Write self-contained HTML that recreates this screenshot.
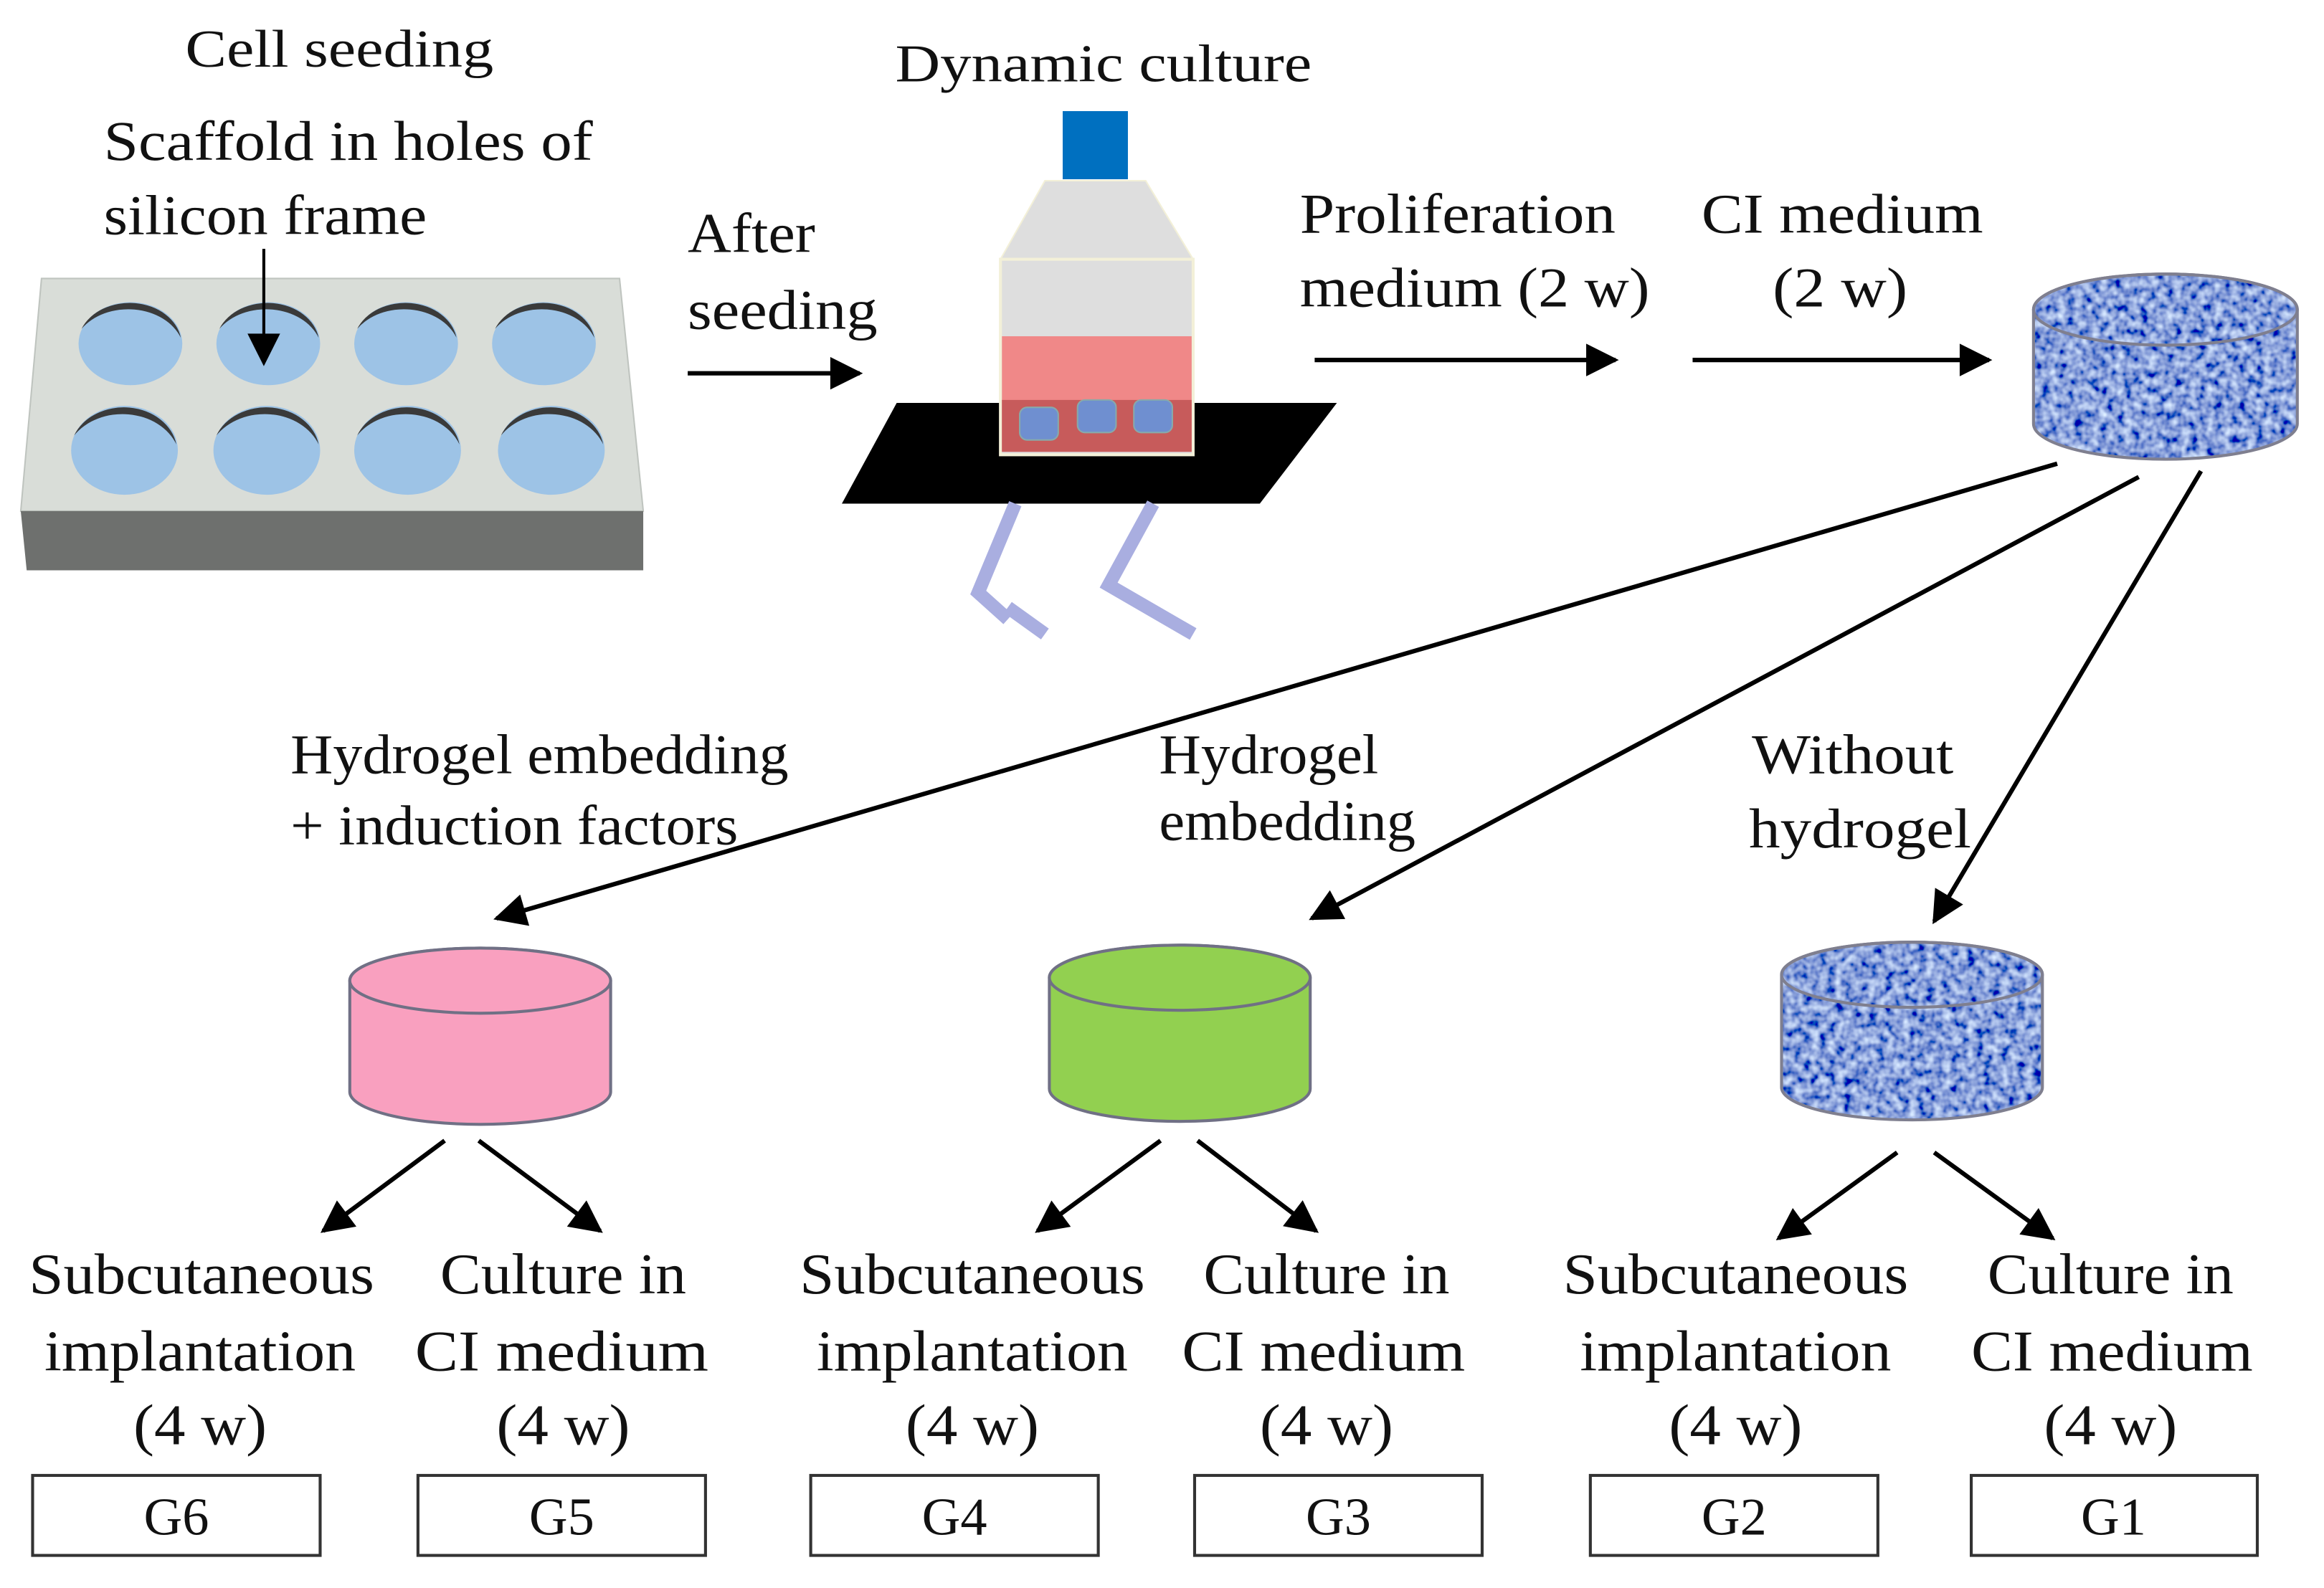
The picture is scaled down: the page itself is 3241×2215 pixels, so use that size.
<!DOCTYPE html>
<html><head><meta charset="utf-8"><style>
html,body{margin:0;padding:0;background:#fff;}
svg{display:block;}
text{font-family:"Liberation Serif",serif;fill:#111;}
</style></head><body>
<svg width="3241" height="2215" viewBox="0 0 1568 1072" preserveAspectRatio="none" xmlns="http://www.w3.org/2000/svg" font-family="Liberation Serif, serif">
<defs>
<marker id="a" viewBox="0 0 10 10" refX="9" refY="5" markerWidth="24" markerHeight="22" markerUnits="userSpaceOnUse" orient="auto"><path d="M0,0 L10,5 L0,10 z" fill="#000"/></marker>
<filter id="tex" x="0" y="0" width="100%" height="100%">
<feTurbulence type="fractalNoise" baseFrequency="0.18" numOctaves="2" seed="3" result="n"/>
<feColorMatrix in="n" type="matrix" values="1.2 0 0 0 -0.35  1.3 0 0 0 -0.3  0.9 0 0 0 0.25  0 0 0 0 1" result="c"/>
<feComposite in="c" in2="SourceGraphic" operator="in"/>
</filter>
<clipPath id="cyl1"><path d="M1372,209 A89,24 0 0 1 1550,209 L1550,286 A89,24 0 0 1 1372,286 Z"/></clipPath>
<clipPath id="cyl2"><path d="M1202,658 A88,22 0 0 1 1378,658 L1378,734 A88,22 0 0 1 1202,734 Z"/></clipPath>
</defs>

<!-- Top-left -->
<text x="125" y="45" font-size="36" textLength="208" lengthAdjust="spacingAndGlyphs">Cell seeding</text>
<text x="70" y="108" font-size="38" textLength="330" lengthAdjust="spacingAndGlyphs">Scaffold in holes of</text>
<text x="70" y="158" font-size="38" textLength="218" lengthAdjust="spacingAndGlyphs">silicon frame</text>
<polygon points="28,188 418,188 434,345 14,345" fill="#d9ddd8" stroke="#bfc4bf"/>
<polygon points="14,345 434,345 434,385 18,385" fill="#6e706e"/>
<g fill="#9dc3e6">
<ellipse cx="88" cy="232" rx="35" ry="28"/><ellipse cx="181" cy="232" rx="35" ry="28"/><ellipse cx="274" cy="232" rx="35" ry="28"/><ellipse cx="367" cy="232" rx="35" ry="28"/>
<ellipse cx="84" cy="304" rx="36" ry="30"/><ellipse cx="180" cy="304" rx="36" ry="30"/><ellipse cx="275" cy="304" rx="36" ry="30"/><ellipse cx="372" cy="304" rx="36" ry="30"/>
</g>
<g fill="#3a3a3a">
<path d="M55,222 A35,28 0 0 1 122,228 A38,30 0 0 0 55,222 Z"/>
<path d="M148,222 A35,28 0 0 1 215,228 A38,30 0 0 0 148,222 Z"/>
<path d="M241,222 A35,28 0 0 1 308,228 A38,30 0 0 0 241,222 Z"/>
<path d="M334,222 A35,28 0 0 1 401,228 A38,30 0 0 0 334,222 Z"/>
<path d="M50,294 A36,30 0 0 1 119,300 A39,32 0 0 0 50,294 Z"/>
<path d="M146,294 A36,30 0 0 1 215,300 A39,32 0 0 0 146,294 Z"/>
<path d="M241,294 A36,30 0 0 1 310,300 A39,32 0 0 0 241,294 Z"/>
<path d="M338,294 A36,30 0 0 1 407,300 A39,32 0 0 0 338,294 Z"/>
</g>
<line x1="178" y1="168" x2="178" y2="245" stroke="#000" stroke-width="2" marker-end="url(#a)"/>

<text x="464" y="170" font-size="38" textLength="86" lengthAdjust="spacingAndGlyphs">After</text>
<text x="464" y="222" font-size="38" textLength="128" lengthAdjust="spacingAndGlyphs">seeding</text>
<line x1="464" y1="252" x2="580" y2="252" stroke="#000" stroke-width="3" marker-end="url(#a)"/>

<!-- Bottle -->
<text x="604" y="55" font-size="36" textLength="281" lengthAdjust="spacingAndGlyphs">Dynamic culture</text>
<polygon points="605,272 902,272 850,340 568,340" fill="#000"/>
<rect x="717" y="75" width="44" height="46" fill="#0070c0"/>
<polygon points="705,122 773,122 805,175 675,175" fill="#dedede" stroke="#f3f0d8"/>
<rect x="675" y="175" width="130" height="132" fill="#dedede" stroke="#f3f0d8" stroke-width="2"/>
<rect x="676" y="227" width="128" height="78" fill="#f08888"/>
<rect x="676" y="270" width="128" height="35" fill="#c75b5b"/>
<g fill="#6f8fd0" stroke="#8aa" stroke-width="1"><rect x="688" y="275" width="26" height="22" rx="5"/><rect x="727" y="270" width="26" height="22" rx="5"/><rect x="765" y="270" width="26" height="22" rx="5"/></g>
<g stroke="#a9aee0" stroke-width="9" fill="none">
<polyline points="685,340 660,400 680,418"/><polyline points="778,340 748,395 805,428"/>
<line x1="680" y1="410" x2="705" y2="428"/>
</g>

<text x="877" y="157" font-size="38" textLength="213" lengthAdjust="spacingAndGlyphs">Proliferation</text>
<text x="877" y="207" font-size="38" textLength="236" lengthAdjust="spacingAndGlyphs">medium (2 w)</text>
<line x1="887" y1="243" x2="1090" y2="243" stroke="#000" stroke-width="3" marker-end="url(#a)"/>
<text x="1148" y="157" font-size="38" textLength="190" lengthAdjust="spacingAndGlyphs">CI medium</text>
<text x="1196" y="207" font-size="38" textLength="91" lengthAdjust="spacingAndGlyphs">(2 w)</text>
<line x1="1142" y1="243" x2="1342" y2="243" stroke="#000" stroke-width="3" marker-end="url(#a)"/>

<!-- Top-right textured cylinder -->
<rect x="1372" y="185" width="178" height="125" fill="#5b82c4" filter="url(#tex)" clip-path="url(#cyl1)"/>
<path d="M1372,209 A89,24 0 0 1 1550,209 L1550,286 A89,24 0 0 1 1372,286 Z" fill="none" stroke="#7f7f8f" stroke-width="2"/>
<ellipse cx="1461" cy="209" rx="89" ry="24" fill="none" stroke="#7f7f8f" stroke-width="2"/>

<!-- Diagonal arrows -->
<g stroke="#000" stroke-width="3" marker-end="url(#a)">
<line x1="1388" y1="313" x2="335" y2="620"/>
<line x1="1443" y1="322" x2="885" y2="620"/>
<line x1="1485" y1="318" x2="1305" y2="622"/>
</g>

<text x="196" y="522" font-size="38" textLength="336" lengthAdjust="spacingAndGlyphs">Hydrogel  embedding</text>
<text x="196" y="570" font-size="38" textLength="302" lengthAdjust="spacingAndGlyphs">+ induction factors</text>
<text x="782" y="522" font-size="38" textLength="148" lengthAdjust="spacingAndGlyphs">Hydrogel</text>
<text x="782" y="567" font-size="38" textLength="173" lengthAdjust="spacingAndGlyphs">embedding</text>
<text x="1182" y="522" font-size="38" textLength="136" lengthAdjust="spacingAndGlyphs">Without</text>
<text x="1180" y="572" font-size="38" textLength="150" lengthAdjust="spacingAndGlyphs">hydrogel</text>

<!-- Cylinders -->
<path d="M236,662 A88,22 0 0 1 412,662 L412,737 A88,22 0 0 1 236,737 Z" fill="#f9a0bf" stroke="#707085" stroke-width="2"/>
<ellipse cx="324" cy="662" rx="88" ry="22" fill="#f9a0bf" stroke="#707085" stroke-width="2"/>
<path d="M708,660 A88,22 0 0 1 884,660 L884,735 A88,22 0 0 1 708,735 Z" fill="#92d050" stroke="#707085" stroke-width="2"/>
<ellipse cx="796" cy="660" rx="88" ry="22" fill="#92d050" stroke="#707085" stroke-width="2"/>
<rect x="1202" y="636" width="176" height="120" fill="#5b82c4" filter="url(#tex)" clip-path="url(#cyl2)"/>
<path d="M1202,658 A88,22 0 0 1 1378,658 L1378,734 A88,22 0 0 1 1202,734 Z" fill="none" stroke="#7f7f8f" stroke-width="2"/>
<ellipse cx="1290" cy="658" rx="88" ry="22" fill="none" stroke="#7f7f8f" stroke-width="2"/>

<!-- Small arrows -->
<g stroke="#000" stroke-width="3" marker-end="url(#a)">
<line x1="300" y1="770" x2="218" y2="831"/><line x1="323" y1="770" x2="405" y2="831"/>
<line x1="783" y1="770" x2="700" y2="831"/><line x1="808" y1="770" x2="888" y2="831"/>
<line x1="1280" y1="778" x2="1200" y2="836"/><line x1="1305" y1="778" x2="1385" y2="836"/>
</g>

<!-- Bottom labels -->
<g font-size="39" text-anchor="middle" lengthAdjust="spacingAndGlyphs">
<text x="136" y="873" textLength="233" lengthAdjust="spacingAndGlyphs">Subcutaneous</text><text x="135" y="925" textLength="210" lengthAdjust="spacingAndGlyphs">implantation</text><text x="135" y="975" textLength="90" lengthAdjust="spacingAndGlyphs">(4 w)</text>
<text x="380" y="873" textLength="166" lengthAdjust="spacingAndGlyphs">Culture in</text><text x="379" y="925" textLength="198" lengthAdjust="spacingAndGlyphs">CI  medium</text><text x="380" y="975" textLength="90" lengthAdjust="spacingAndGlyphs">(4 w)</text>
<text x="656" y="873" textLength="233" lengthAdjust="spacingAndGlyphs">Subcutaneous</text><text x="656" y="925" textLength="210" lengthAdjust="spacingAndGlyphs">implantation</text><text x="656" y="975" textLength="90" lengthAdjust="spacingAndGlyphs">(4 w)</text>
<text x="895" y="873" textLength="166" lengthAdjust="spacingAndGlyphs">Culture in</text><text x="893" y="925" textLength="191" lengthAdjust="spacingAndGlyphs">CI medium</text><text x="895" y="975" textLength="90" lengthAdjust="spacingAndGlyphs">(4 w)</text>
<text x="1171" y="873" textLength="233" lengthAdjust="spacingAndGlyphs">Subcutaneous</text><text x="1171" y="925" textLength="210" lengthAdjust="spacingAndGlyphs">implantation</text><text x="1171" y="975" textLength="90" lengthAdjust="spacingAndGlyphs">(4 w)</text>
<text x="1424" y="873" textLength="166" lengthAdjust="spacingAndGlyphs">Culture in</text><text x="1425" y="925" textLength="190" lengthAdjust="spacingAndGlyphs">CI medium</text><text x="1424" y="975" textLength="90" lengthAdjust="spacingAndGlyphs">(4 w)</text>
</g>
<g fill="#fff" stroke="#333" stroke-width="2">
<rect x="22" y="996" width="194" height="54"/><rect x="282" y="996" width="194" height="54"/>
<rect x="547" y="996" width="194" height="54"/><rect x="806" y="996" width="194" height="54"/>
<rect x="1073" y="996" width="194" height="54"/><rect x="1330" y="996" width="193" height="54"/>
</g>
<g font-size="36" text-anchor="middle">
<text x="119" y="1036">G6</text><text x="379" y="1036">G5</text><text x="644" y="1036">G4</text>
<text x="903" y="1036">G3</text><text x="1170" y="1036">G2</text><text x="1426" y="1036">G1</text>
</g>
</svg>
</body></html>
